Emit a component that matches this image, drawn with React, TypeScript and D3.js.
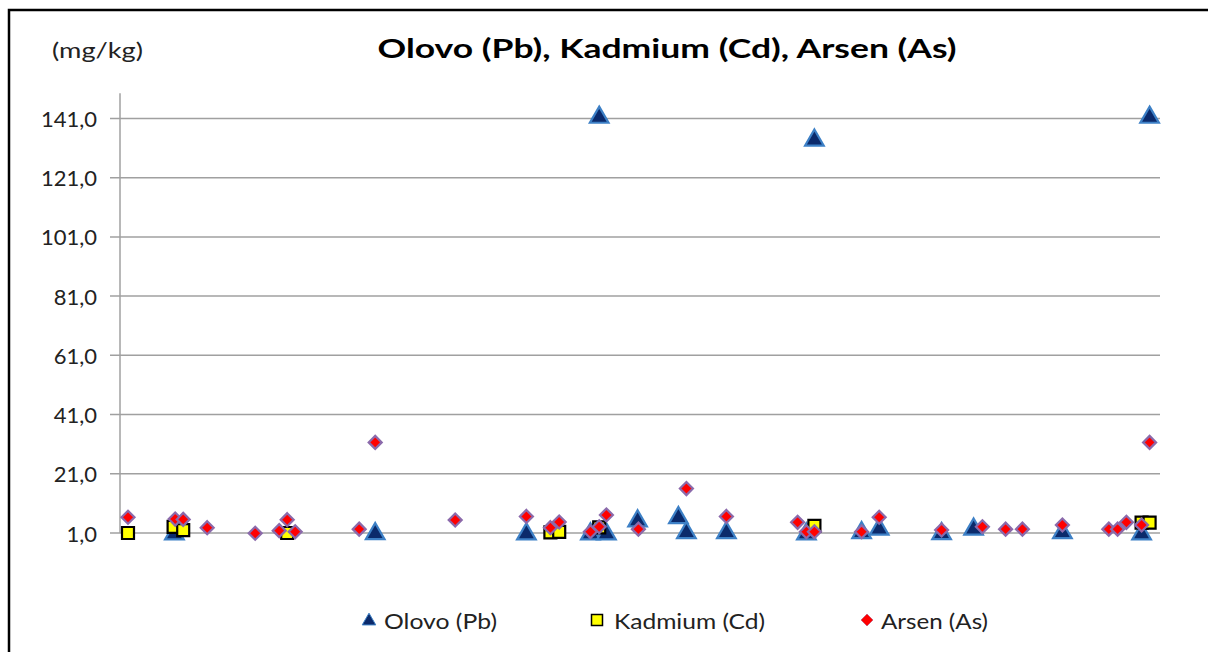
import React from "react";
import * as d3 from "d3";

const TITLE = "Olovo (Pb), Kadmium (Cd), Arsen (As)";
const UNIT = "(mg/kg)";
const SERIES_NAMES = ["Olovo (Pb)", "Kadmium (Cd)", "Arsen (As)"];
const Y_TICKS = [1, 21, 41, 61, 81, 101, 121, 141];

const pbX = [6.8, 31.9, 50.8, 58.8, 59.9, 60.8, 64.7, 69.8, 70.8, 75.8, 85.8, 86.8, 92.7, 94.9, 102.7, 106.7, 117.8, 127.7, 128.7];
const pbY = [1.0, 1.1, 1.0, 1.0, 141.7, 1.0, 5.4, 6.5, 1.4, 1.4, 1.0, 134.0, 1.4, 2.6, 1.1, 2.6, 1.4, 1.0, 141.7];

const cdX = [1.0, 6.7, 7.9, 20.9, 53.8, 54.9, 59.9, 86.8, 127.7, 128.7];
const cdY = [1.0, 3.1, 2.0, 1.0, 1.2, 1.4, 2.9, 3.4, 4.5, 4.5];

const asX = [1.0, 6.9, 7.9, 10.9, 16.9, 19.9, 20.9, 21.9, 29.9, 31.9, 41.9, 50.8, 53.8, 54.9, 58.8, 59.9, 60.8, 64.8, 70.8, 75.8, 84.7, 85.8, 86.8, 92.7, 94.9, 102.7, 107.8, 110.7, 112.8, 117.8, 123.6, 124.7, 125.8, 127.7, 128.7];
const asY = [6.3, 5.7, 5.6, 2.8, 0.9, 1.8, 5.5, 1.4, 2.3, 31.6, 5.4, 6.6, 2.8, 4.7, 1.4, 3.1, 7.1, 2.3, 16.0, 6.6, 4.6, 1.4, 1.4, 1.4, 6.3, 2.0, 3.1, 2.3, 2.3, 3.7, 2.3, 2.3, 4.6, 3.7, 31.6];

const X_DOMAIN = [0, 130];
const Y_DOMAIN = [1, 149.5];

const FONT = "Lato, 'Open Sans', sans-serif";

export default function App() {
  const W = 1208, H = 652;
  const left = 120, right = 1160, top = 93.3, bottom = 533;
  const x = d3.scaleLinear().domain(X_DOMAIN).range([left, right]);
  const y = d3.scaleLinear().domain(Y_DOMAIN).range([bottom, top]);
  const fmt = (v: number) => d3.format(".1f")(v).replace(".", ",");

  const tri = d3.symbol().type(d3.symbolTriangle).size(150);
  const sq = (s: number) => `M${-s / 2},${-s / 2}h${s}v${s}h${-s}Z`;
  const dia = (r: number) => `M0,${-r}L${r},0L0,${r}L${-r},0Z`;

  const pb = pbX.map((v, i) => ({ x: v, y: pbY[i] }));
  const cd = cdX.map((v, i) => ({ x: v, y: cdY[i] }));
  const as = asX.map((v, i) => ({ x: v, y: asY[i] }));

  return (
    <svg width={W} height={H} style={{ position: "absolute", left: 0, top: 0, background: "#fff" }}>
      <rect x={0} y={0} width={W} height={H} fill="#fff" />
      <rect x={9} y={10} width={1300} height={800} fill="none" stroke="#000" strokeWidth={2.5} />
      <text x={667} y={47} textAnchor="middle" dominantBaseline="central" fontFamily={FONT} fontWeight="bold" fontSize={27} textLength={579} lengthAdjust="spacingAndGlyphs" fill="#000">{TITLE}</text>
      <text x={52} y={49} dominantBaseline="central" fontFamily={FONT} fontSize={21} textLength={91} lengthAdjust="spacingAndGlyphs" fill="#222">{UNIT}</text>

      {Y_TICKS.map((t) => (
        <g key={t}>
          <line x1={110} x2={right} y1={y(t)} y2={y(t)} stroke="#a0a0a0" strokeWidth={1.5} />
          <text x={97} y={y(t)} textAnchor="end" dominantBaseline="central" fontFamily={FONT} fontSize={22} fill="#222">{fmt(t)}</text>
        </g>
      ))}
      <line x1={left} x2={left} y1={top} y2={bottom} stroke="#a0a0a0" strokeWidth={1.5} />

      {pb.map((d, i) => (
        <path key={"pb" + i} d={tri()!} transform={`translate(${x(d.x)},${y(d.y) + 1})`} fill="#0b2a6b" stroke="#3d80c6" strokeWidth={2.2} />
      ))}
      {cd.map((d, i) => (
        <path key={"cd" + i} d={sq(12)} transform={`translate(${x(d.x)},${y(d.y)})`} fill="#ffff00" stroke="#000" strokeWidth={2.2} />
      ))}
      {as.map((d, i) => (
        <path key={"as" + i} d={dia(6.5)} transform={`translate(${x(d.x)},${y(d.y)})`} fill="#ff0000" stroke="#8b6aab" strokeWidth={2.2} />
      ))}

      <g>
        <path d={d3.symbol().type(d3.symbolTriangle).size(80)()!} transform="translate(369,621)" fill="#0b2a6b" stroke="#3d80c6" strokeWidth={1} />
        <text x={384} y={620} dominantBaseline="central" fontFamily={FONT} fontSize={21} textLength={113} lengthAdjust="spacingAndGlyphs" fill="#222">{SERIES_NAMES[0]}</text>
        <path d={sq(11)} transform="translate(597,620)" fill="#ffff00" stroke="#000" strokeWidth={1.5} />
        <text x={614} y={620} dominantBaseline="central" fontFamily={FONT} fontSize={21} textLength={151} lengthAdjust="spacingAndGlyphs" fill="#222">{SERIES_NAMES[1]}</text>
        <path d={dia(6)} transform="translate(867,620)" fill="#ff0000" stroke="#c25a7a" strokeWidth={0.8} />
        <text x={881} y={620} dominantBaseline="central" fontFamily={FONT} fontSize={21} textLength={107} lengthAdjust="spacingAndGlyphs" fill="#222">{SERIES_NAMES[2]}</text>
      </g>
    </svg>
  );
}
